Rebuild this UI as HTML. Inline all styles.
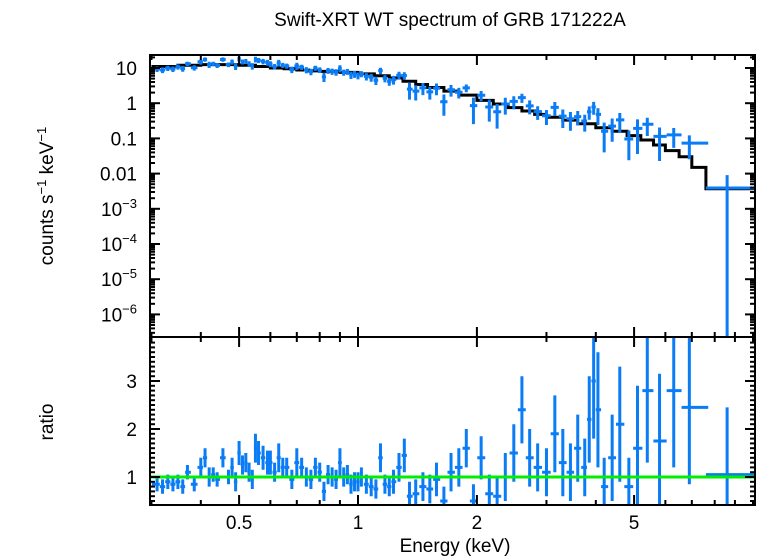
<!DOCTYPE html>
<html><head><meta charset="utf-8"><style>
body{margin:0;background:#fff;}
svg{display:block;font-family:"Liberation Sans",sans-serif;}
</style></head><body>
<svg id="c" width="758" height="556">
<rect width="758" height="556" fill="#fff"/>
<text x="450" y="26" font-size="19" text-anchor="middle">Swift-XRT WT spectrum of GRB 171222A</text>
<text transform="translate(53,196) rotate(-90)" font-size="19" text-anchor="middle">counts s<tspan dy="-7" font-size="13">−1</tspan><tspan dy="7"> keV</tspan><tspan dy="-7" font-size="13">−1</tspan></text>
<text transform="translate(53,422) rotate(-90)" font-size="19" text-anchor="middle">ratio</text>
<text x="455" y="552" font-size="19" text-anchor="middle">Energy (keV)</text>
<g id="g"></g>
</svg>
<script>
const energies=[0.31,0.32,0.33,0.34,0.35,0.36,0.37,0.385,0.40,0.41,0.42,0.43,0.44,0.455,0.47,0.48,0.49,0.50,0.51,0.52,0.53,0.54,0.55,0.56,0.575,0.59,0.60,0.615,0.63,0.645,0.66,0.68,0.70,0.72,0.74,0.76,0.78,0.80,0.82,0.84,0.86,0.88,0.90,0.92,0.94,0.96,0.98,1.00,1.02,1.05,1.08,1.11,1.14,1.17,1.20,1.23,1.27,1.31,1.35,1.40,1.46,1.52,1.58,1.65,1.72,1.80,1.88,1.96,2.05,2.15,2.25,2.36,2.48,2.60,2.72,2.85,3.0,3.15,3.3,3.45,3.6,3.75,3.85,3.95,4.05,4.2,4.4,4.6,4.85,5.1,5.4,5.8,6.3,6.9,8.6];
const ratios=[0.85,0.8,0.9,0.85,0.9,0.8,1.1,0.85,1.2,1.4,1.0,1.05,0.95,1.4,1.0,1.2,0.9,1.5,1.25,1.3,1.1,0.95,1.6,1.5,1.4,1.3,1.3,1.1,1.4,1.2,1.2,0.95,1.3,1.2,1.0,0.95,1.2,1.1,0.7,1.05,1.0,0.95,1.3,1.0,1.05,0.85,0.9,0.9,1.0,0.85,0.8,0.75,1.4,0.85,0.8,0.9,1.2,1.45,0.6,0.65,0.8,0.75,0.95,0.5,1.1,1.2,1.6,0.5,1.4,0.65,0.6,1.0,1.5,2.4,1.4,1.2,1.1,1.9,1.3,1.1,1.6,1.2,2.2,3.0,2.4,0.8,1.4,2.1,0.8,1.6,2.8,1.75,2.8,2.45,1.05];
const ratioErrs=[0.15,0.15,0.15,0.15,0.15,0.15,0.15,0.15,0.2,0.2,0.2,0.15,0.15,0.2,0.15,0.2,0.2,0.25,0.2,0.2,0.2,0.2,0.3,0.25,0.25,0.25,0.25,0.2,0.3,0.2,0.2,0.2,0.3,0.2,0.2,0.2,0.2,0.2,0.2,0.2,0.2,0.2,0.3,0.2,0.2,0.2,0.2,0.2,0.2,0.2,0.2,0.2,0.3,0.2,0.2,0.25,0.3,0.35,0.3,0.3,0.3,0.3,0.35,0.3,0.4,0.4,0.4,0.35,0.45,0.4,0.4,0.5,0.6,0.7,0.6,0.5,0.5,0.8,0.7,0.6,0.7,0.6,0.9,1.2,1.2,0.6,0.9,1.2,0.6,1.3,1.5,1.4,1.6,1.6,1.4];
const modelEdges=[0.3,0.35,0.4,0.45,0.5,0.55,0.6,0.65,0.7,0.75,0.8,0.9,1.0,1.1,1.2,1.3,1.4,1.5,1.65,1.8,2.0,2.2,2.4,2.6,2.8,3.0,3.3,3.6,4.0,4.4,4.8,5.2,5.6,6.0,6.5,7.0,7.6,10.1];
const modelCounts=[11,12,12.5,12.5,12,11,10,9.5,8.8,8.3,8,7.5,6.8,6,5.2,4.2,3.4,2.8,2.2,1.7,1.2,0.95,0.75,0.6,0.48,0.4,0.33,0.26,0.2,0.16,0.12,0.09,0.065,0.045,0.03,0.015,0.0037];
const xTicks=[0.5,1,2,5];
const yTickVals=[10,1,0.1,0.01,1e-3,1e-4,1e-5,1e-6];
const yTickLabels=["10","1","0.1","0.01","10|−3","10|−4","10|−5","10|−6"];
const ratioTicks=[1,2,3];

const L=150,R=755,T1=55,B1=337,B2=505;
const xs=e=>358+395*Math.log10(e);
const ys=v=>68-35.2*Math.log10(v/10);
const yr=r=>477-48*(r-1);
const g=document.getElementById('g');
const NS='http://www.w3.org/2000/svg';
function mk(tag,at,parent){const el=document.createElementNS(NS,tag);for(const k in at)el.setAttribute(k,at[k]);(parent||g).appendChild(el);return el;}
const clip=mk('clipPath',{id:'cp1'});mk('rect',{x:L,y:T1,width:R-L,height:B1-T1},clip);
const clip2=mk('clipPath',{id:'cp2'});mk('rect',{x:L,y:B1,width:R-L,height:B2-B1},clip2);
const blue='#0a7cf5';
const modelAt=e=>{for(let i=0;i<modelCounts.length;i++){if(e<modelEdges[i+1])return modelCounts[i];}return modelCounts[modelCounts.length-1];};
let d='';
for(let i=0;i<modelCounts.length;i++){const y=ys(modelCounts[i]);d+=(i?'L':'M')+xs(modelEdges[i])+','+y+'L'+xs(modelEdges[i+1])+','+y;}
const mp=mk('path',{d:d,fill:'none',stroke:'#000','stroke-width':3,'clip-path':'url(#cp1)'});


const gt=mk('g',{'clip-path':'url(#cp1)'});


const gb=mk('g',{'clip-path':'url(#cp2)'});


for(let i=0;i<energies.length;i++){
  const e=energies[i];
  const lo=i>0?Math.sqrt(energies[i-1]*e):e*0.97;
  const hi=i<energies.length-1?Math.sqrt(energies[i+1]*e):10.1;
  const loE=i===energies.length-1?7.6:lo;
  const m=modelAt(e),r=ratios[i],er=ratioErrs[i];
  const v=m*r,vlo=Math.max(m*(r-er),1e-9),vhi=m*(r+er);
  const p1=mk('path',{d:`M${xs(loE)},${ys(v)}H${xs(hi)}M${xs(e)},${ys(vlo)}V${ys(vhi)}`,stroke:blue,'stroke-width':3,fill:'none'},gt);
  
  
  const p2=mk('path',{d:`M${xs(loE)},${yr(r)}H${xs(hi)}M${xs(e)},${yr(r-er)}V${yr(r+er)}`,stroke:blue,'stroke-width':3,fill:'none'},gb);
  
  
}
const gl=mk('line',{x1:L,x2:R,y1:yr(1),y2:yr(1),stroke:'#00ee00','stroke-width':3});


for(const [t,b] of [[T1,B1],[B1,B2]]){const f=mk('rect',{x:L,y:t,width:R-L,height:b-t,fill:'none',stroke:'#000','stroke-width':2});

}
const minorX=[0.3,0.4,0.6,0.7,0.8,0.9,3,4,6,7,8,9,10];
function xt(e,len){for(const [t,b] of [[T1,B1],[B1,B2]]){mk('line',{x1:xs(e),x2:xs(e),y1:t,y2:t+len,stroke:'#000','stroke-width':2});mk('line',{x1:xs(e),x2:xs(e),y1:b,y2:b-len,stroke:'#000','stroke-width':2});}}
minorX.forEach(e=>{if(xs(e)>L&&xs(e)<R)xt(e,5);});
[0.5,1,2,5].forEach(e=>xt(e,10));
xTicks.forEach(e=>{const t=mk('text',{x:xs(e),y:529,'font-size':19,'text-anchor':'middle'});t.textContent=String(e);

});
for(let k=-7;k<=1;k++){for(let j=1;j<10;j++){const v=j*Math.pow(10,k);const y=ys(v);if(y<T1||y>B1)continue;const len=j===1?10:5;
mk('line',{x1:L,x2:L+len,y1:y,y2:y,stroke:'#000','stroke-width':2});mk('line',{x1:R,x2:R-len,y1:y,y2:y,stroke:'#000','stroke-width':2});}}
yTickVals.forEach((v,i)=>{const parts=yTickLabels[i].split('|');const t=mk('text',{x:137,y:ys(v)+7,'font-size':19,'text-anchor':'end'});
if(parts.length===1)t.textContent=parts[0];else{t.textContent=parts[0];const s=mk('tspan',{dy:-8,'font-size':13},t);s.textContent=parts[1];}

});
for(let r=0.5;r<=3.9;r+=0.1){const y=yr(r);if(y<B1||y>B2)continue;const maj=Math.abs(r-Math.round(r))<0.01;const len=maj?10:5;
mk('line',{x1:L,x2:L+len,y1:y,y2:y,stroke:'#000','stroke-width':2});mk('line',{x1:R,x2:R-len,y1:y,y2:y,stroke:'#000','stroke-width':2});}
ratioTicks.forEach(r=>{const t=mk('text',{x:137,y:yr(r)+7,'font-size':19,'text-anchor':'end'});t.textContent=String(r);

});
</script>
</body></html>
